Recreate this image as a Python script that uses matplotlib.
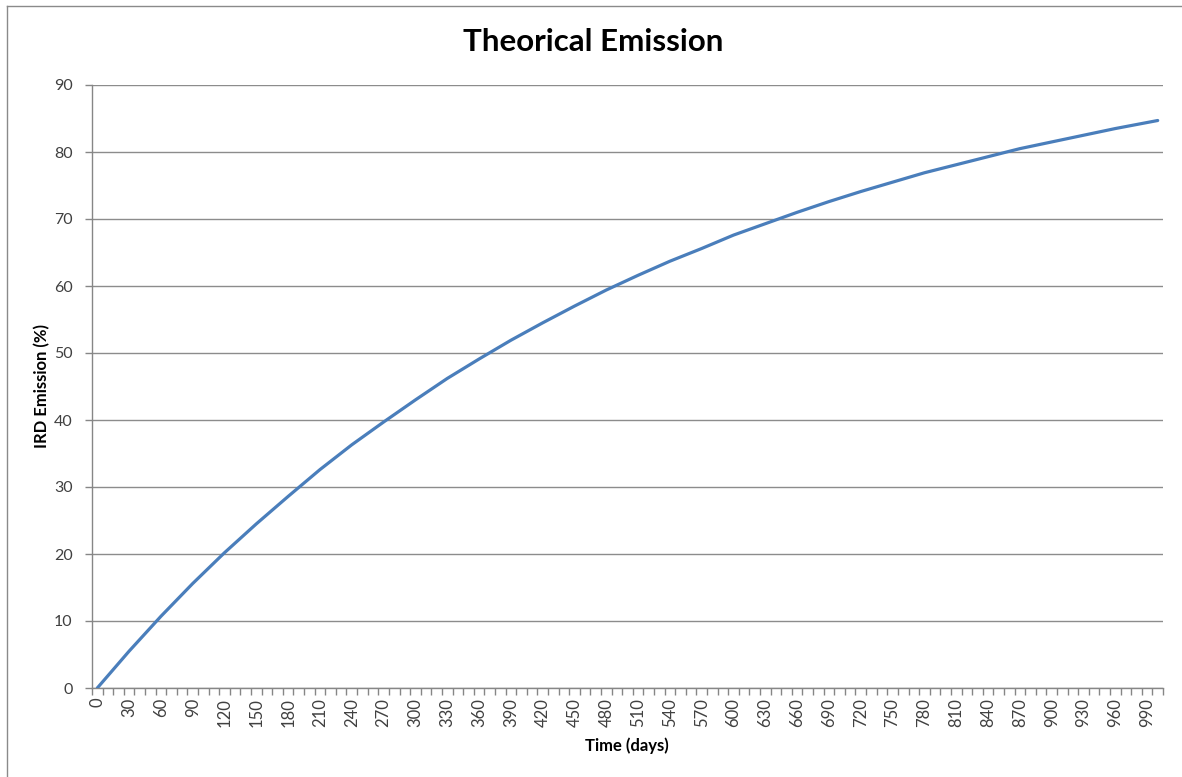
import matplotlib
matplotlib.use("Agg")
import matplotlib.pyplot as plt
from matplotlib.lines import Line2D
import numpy as np

days = [0, 30, 60, 90, 120, 150, 180, 210, 240, 270, 300, 330, 360, 390, 420,
        450, 480, 510, 540, 570, 600, 630, 660, 690, 720, 750, 780, 810, 840,
        870, 900, 930, 960, 990, 1000]
emission = [0.0, 5.5, 10.7, 15.6, 20.2, 24.5, 28.6, 32.6, 36.3, 39.7, 43.0,
            46.2, 49.1, 51.9, 54.5, 57.0, 59.4, 61.6, 63.7, 65.6, 67.6, 69.3,
            71.0, 72.6, 74.1, 75.5, 76.9, 78.1, 79.3, 80.5, 81.5, 82.5, 83.5,
            84.4, 84.7]
x_labels = list(range(0, 991, 30))
y_ticks = list(range(0, 91, 10))

plt.rcParams['font.family'] = ['Lato', 'DejaVu Sans']

fig = plt.figure(figsize=(11.82, 7.77), dpi=100)
ax = fig.add_axes([92/1182, 1-688/777, (1163-92)/1182, (688-85)/777])

ax.plot(days, emission, color='#4A7EBB', lw=2.3, solid_capstyle='round', zorder=3)

ax.set_xlim(-5, 1005)
ax.set_ylim(0, 90)
ax.set_xticks(x_labels)
ax.set_xticklabels([str(v) for v in x_labels], rotation=90, fontsize=12, color='#404040')
ax.set_xticks(np.arange(-5, 1006, 10), minor=True)
ax.tick_params(axis='x', which='major', length=0, pad=7)
ax.tick_params(axis='x', which='minor', length=5, color='#868686', width=1)
ax.set_yticks(y_ticks)
ax.set_yticklabels([str(v) for v in y_ticks], fontsize=11.5, color='#404040')
ax.tick_params(axis='y', length=5, color='#868686', width=1, pad=9)

ax.grid(axis='y', color='#8C8C8C', lw=1)
ax.set_axisbelow(True)
for s in ['top', 'right']:
    ax.spines[s].set_visible(False)
for s in ['left', 'bottom']:
    ax.spines[s].set_color('#868686')
    ax.spines[s].set_linewidth(1)

fig.text(593/1182, 1-42/777, 'Theorical Emission', ha='center', va='center',
         fontsize=22.5, fontweight='bold', color='#000000')
fig.text(42/1182, 1-386/777, 'IRD Emission (%)', ha='center', va='center',
         rotation=90, fontsize=12, fontweight='bold', color='#000000')
fig.text(627/1182, 1-746/777, 'Time (days)', ha='center', va='center',
         fontsize=12, fontweight='bold', color='#000000')

fig.add_artist(Line2D([7/1182, 7/1182], [0, 1-6/777], transform=fig.transFigure,
                      color='#8A8A8A', lw=1))
fig.add_artist(Line2D([7/1182, 1], [1-6/777, 1-6/777], transform=fig.transFigure,
                      color='#8A8A8A', lw=1))

fig.savefig('out.png', dpi=100)
